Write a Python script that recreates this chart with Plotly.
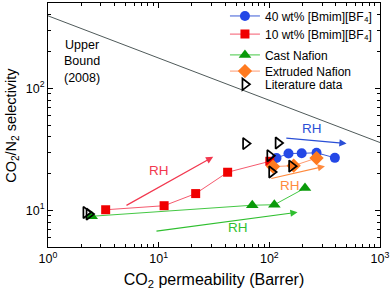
import numpy as np
import plotly.graph_objects as go

# ---- data (CO2 permeability in Barrer, CO2/N2 selectivity) ----
il40_P = [116, 149, 196, 267, 391]
il40_S = [26.8, 29.2, 29.3, 29.6, 26.9]
il10_P = [3.32, 11.2, 21.6, 42.0, 101]
il10_S = [10.1, 10.9, 13.7, 20.5, 25.2]
cast_P = [2.48, 70.1, 111, 210]
cast_S = [8.93, 11.0, 11.1, 15.2]
extr_P = [108, 166, 267]
extr_S = [22.8, 23.2, 26.8]
lit_P = [2.2, 2.35, 61, 120, 101, 105, 159]
lit_S = [9.6, 9.3, 35.2, 35.6, 28.0, 20.6, 23.0]

# Robeson 2008 upper bound: P = k * alpha^-n
ub_k = 30967000
ub_n = 2.888
ub_P = [1, 1000]

# RH arrows: tail P, tail S, tip P, tip S, colour
arrow_tail_P = [4.96, 138, 101, 9.26]
arrow_tail_S = [10.8, 39.2, 18.1, 6.73]
arrow_tip_P = [31.1, 499, 318, 180]
arrow_tip_S = [27.4, 35.2, 23.0, 9.63]
arrow_colors = ["#f2384f", "#2a4fd6", "#ff8a3d", "#2fbf2f"]
rh_P = [10.1, 241, 153, 52.4]
rh_S = [21.3, 46.8, 15.9, 7.26]

x_ticks = [1, 10, 100, 1000]
x_ticktext = ["10<sup>0</sup>", "10<sup>1</sup>", "10<sup>2</sup>", "10<sup>3</sup>"]
y_ticks = [10, 100]
y_ticktext = ["10<sup>1</sup>", "10<sup>2</sup>"]

FONT = "Liberation Sans, Arial, sans-serif"

fig = go.Figure()

ub_S = [(ub_k / p) ** (1 / ub_n) for p in ub_P]
fig.add_trace(go.Scatter(x=ub_P, y=ub_S, mode="lines", line=dict(color="#4f5a5a", width=1),
                         showlegend=False, hoverinfo="skip"))

fig.add_trace(go.Scatter(x=il40_P, y=il40_S, mode="lines+markers",
                         name="40 wt% [Bmim][BF\u2084]", legend="legend",
                         line=dict(color="#3b5bd6", width=1),
                         marker=dict(symbol="circle", size=10, color="#2448e6")))
fig.add_trace(go.Scatter(x=il10_P, y=il10_S, mode="lines+markers",
                         name="10 wt% [Bmim][BF\u2084]", legend="legend2",
                         line=dict(color="#f55a6e", width=1),
                         marker=dict(symbol="square", size=9, color="#f00000")))
fig.add_trace(go.Scatter(x=cast_P, y=cast_S, mode="lines+markers",
                         name="Cast Nafion", legend="legend3",
                         line=dict(color="#44c844", width=1),
                         marker=dict(symbol="triangle-up", size=11, color="#0a9a0a")))
fig.add_trace(go.Scatter(x=extr_P, y=extr_S, mode="lines+markers",
                         name="Extruded Nafion", legend="legend4",
                         line=dict(color="#ff9a70", width=1),
                         marker=dict(symbol="diamond", size=11, color="#ff7a1f")))
fig.add_trace(go.Scatter(x=lit_P, y=lit_S, mode="markers",
                         name="Literature data", legend="legend5",
                         marker=dict(symbol="triangle-right-open", size=10, color="black",
                                     line=dict(width=1.7, color="black"))))

annotations = []
for tp, ts, hp, hs, c in zip(arrow_tail_P, arrow_tail_S, arrow_tip_P, arrow_tip_S, arrow_colors):
    annotations.append(dict(x=np.log10(hp), y=np.log10(hs), ax=np.log10(tp), ay=np.log10(ts),
                            xref="x", yref="y", axref="x", ayref="y", text="",
                            showarrow=True, arrowhead=2, arrowsize=1.2, arrowwidth=1.2,
                            arrowcolor=c, standoff=0, startstandoff=0))
for p, s, c in zip(rh_P, rh_S, arrow_colors):
    annotations.append(dict(x=np.log10(p), y=np.log10(s), xref="x", yref="y", text="RH",
                            showarrow=False, font=dict(family=FONT, size=13.5, color=c)))
annotations.append(dict(x=np.log10(2.03), y=np.log10(166), xref="x", yref="y",
                        text="Upper<br>Bound<br>(2008)", showarrow=False, align="center",
                        font=dict(family=FONT, size=12.5, color="black")))
# y-axis title placed as rotated text
annotations.append(dict(x=-0.109, y=0.5, xref="paper", yref="paper", xanchor="center",
                        yanchor="middle", textangle=-90, showarrow=False,
                        text="CO<sub>2</sub>/N<sub>2</sub> selectivity",
                        font=dict(family=FONT, size=14.5, color="black")))

x_minor = [m * 10 ** e for e in range(0, 3) for m in range(2, 10)]
y_minor = [m * 10 ** e for e in range(0, 3) for m in range(2, 10)]

axis_common = dict(showline=True, linecolor="black", linewidth=1, mirror="ticks",
                   ticks="inside", ticklen=5, tickwidth=1, tickcolor="black",
                   showgrid=False, zeroline=False, ticklabeloverflow="allow",
                   tickfont=dict(family=FONT, size=12.5, color="black"))

legend_rows_y = [0.943, 0.869, 0.784, 0.718, 0.664]
legend_common = dict(x=0.533, xanchor="left", yanchor="middle", bgcolor="rgba(0,0,0,0)",
                     font=dict(family=FONT, size=12), itemwidth=30, borderwidth=0)
legend_layout = {}
for i, ly in enumerate(legend_rows_y):
    key = "legend" if i == 0 else f"legend{i + 1}"
    legend_layout[key] = dict(y=ly, **legend_common)

fig.update_layout(
    width=392, height=293,
    margin=dict(l=48, r=12, t=2, b=46),
    plot_bgcolor="white", paper_bgcolor="white",
    font=dict(family=FONT, size=12, color="black"),
    xaxis=dict(type="log", range=[0, 3], tickmode="array", tickvals=x_ticks, ticktext=x_ticktext,
               minor=dict(tickmode="array", tickvals=x_minor, ticks="inside", ticklen=3,
                          tickcolor="black", showgrid=False),
               title=dict(text="CO<sub>2</sub> permeability (Barrer)", standoff=8,
                          font=dict(family=FONT, size=16)),
               **axis_common),
    yaxis=dict(type="log", range=[np.log10(5), np.log10(500)], tickmode="array", tickvals=y_ticks,
               ticktext=y_ticktext,
               minor=dict(tickmode="array", tickvals=y_minor, ticks="inside", ticklen=3,
                          tickcolor="black", showgrid=False),
               **axis_common),
    annotations=annotations,
    **legend_layout,
)

fig.write_html("out.html", config={"displayModeBar": False},
               post_script="document.body.style.margin='0';")
